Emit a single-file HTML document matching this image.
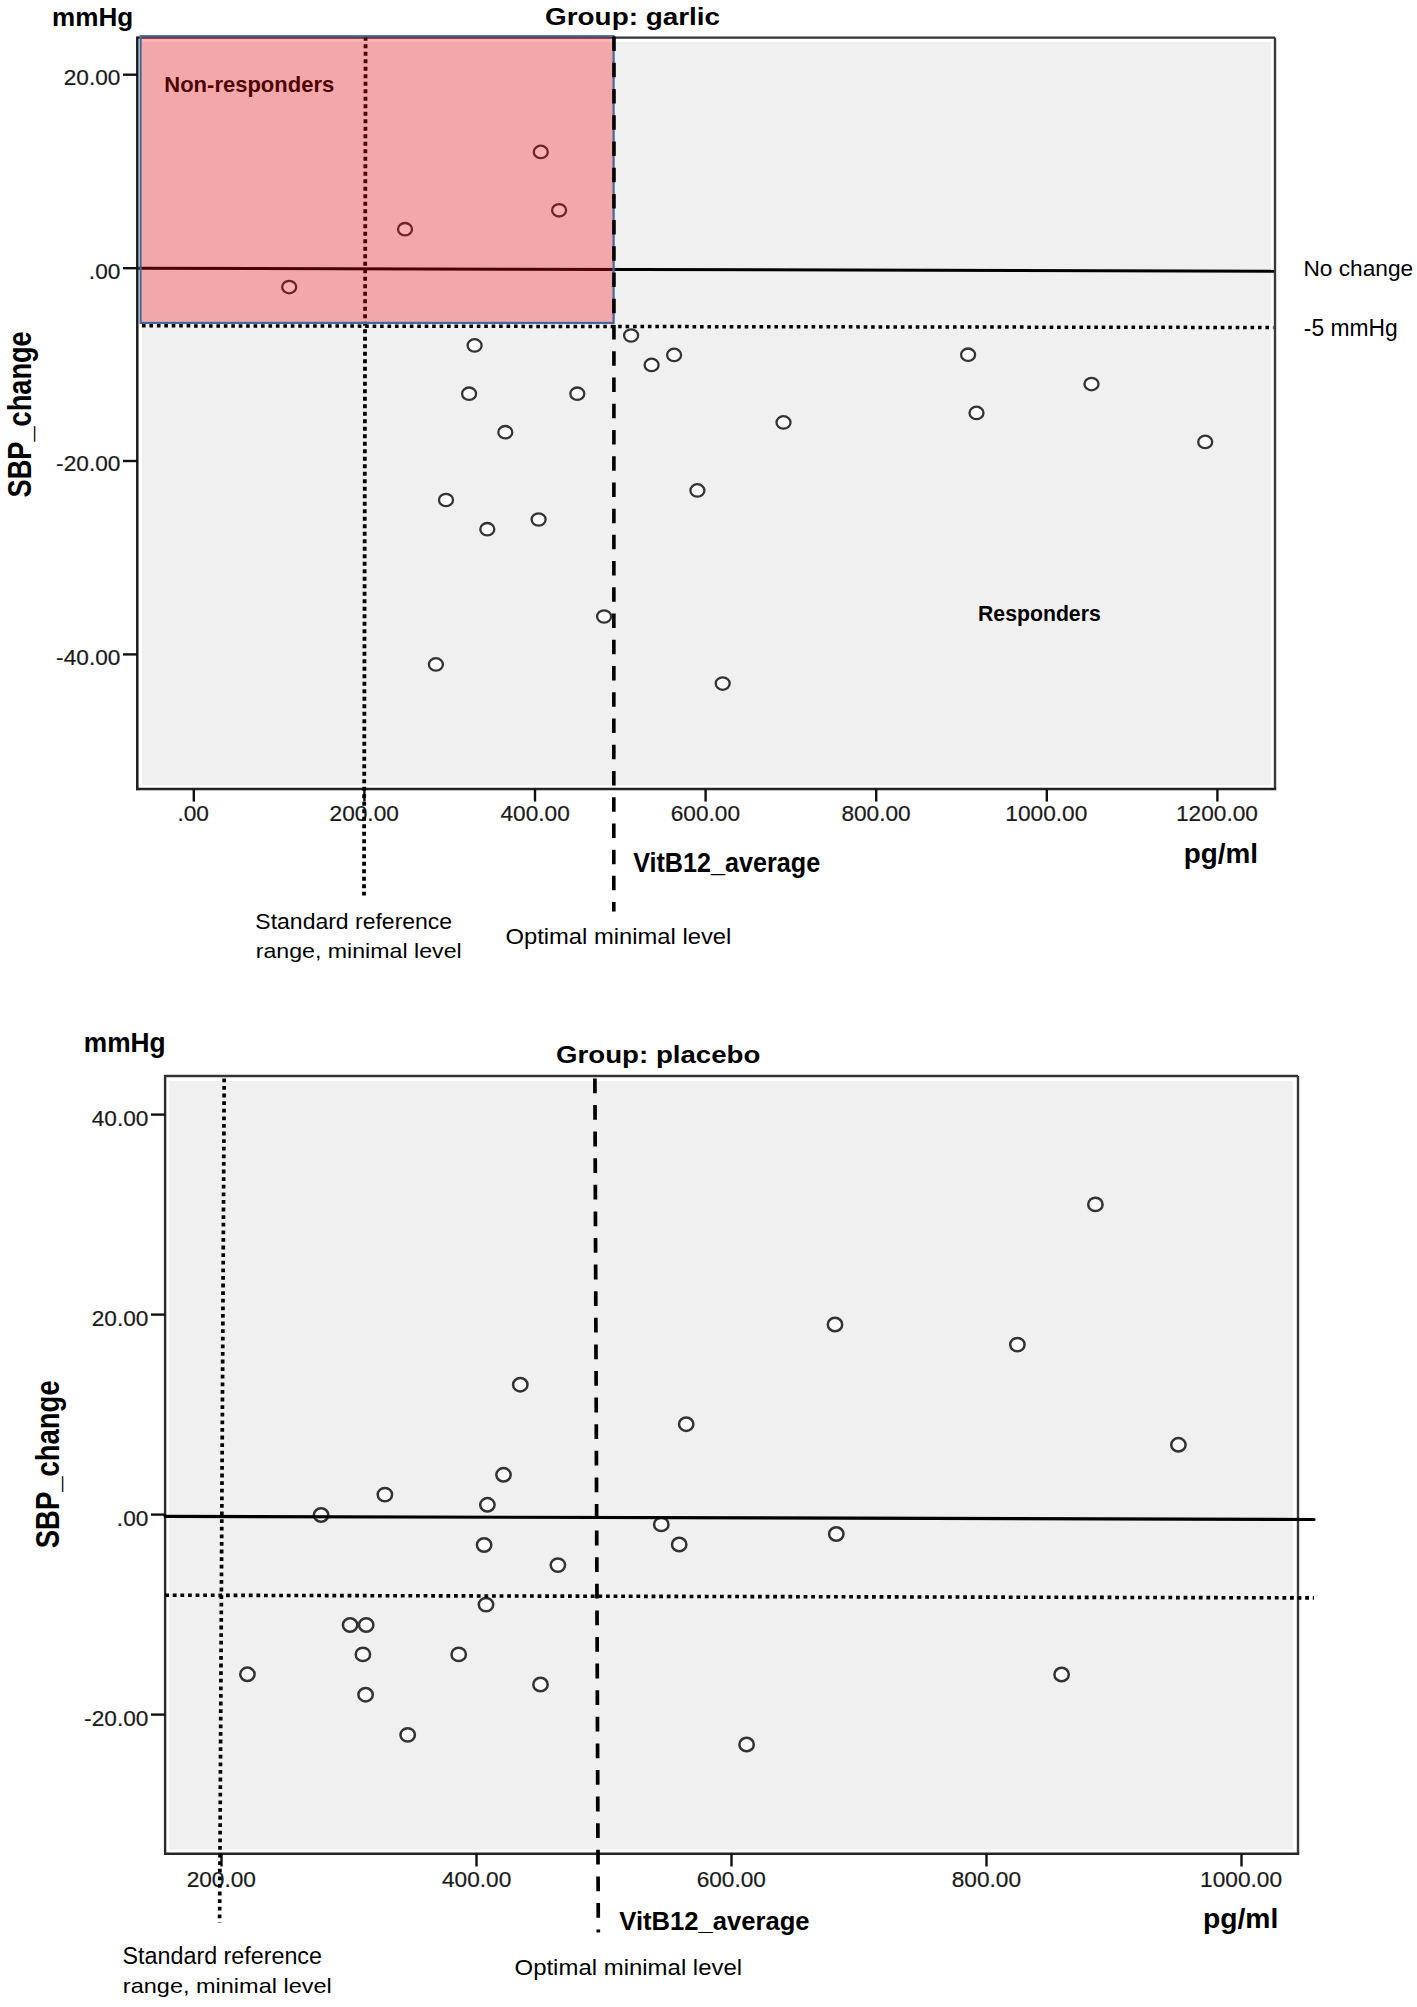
<!DOCTYPE html>
<html><head><meta charset="utf-8"><title>Group: garlic / placebo</title>
<style>
html,body{margin:0;padding:0;background:#fff;}
body{width:1417px;height:2007px;overflow:hidden;}
svg{display:block;}
text{font-family:"Liberation Sans", sans-serif;}
</style></head>
<body>
<svg width="1417" height="2007" viewBox="0 0 1417 2007">
<rect width="1417" height="2007" fill="#fff"/>
<rect x="141.9" y="41.9" width="1128.8000000000002" height="743.1" fill="#f0f0f0"/>
<line x1="137.3" y1="37.6" x2="1275" y2="37.6" stroke="#333" stroke-width="2.2" stroke-linecap="butt" />
<line x1="1275" y1="37.6" x2="1275" y2="789.1" stroke="#3a3a3a" stroke-width="2.4" stroke-linecap="butt" />
<line x1="137.3" y1="36.6" x2="137.3" y2="790.3000000000001" stroke="#1c1c1c" stroke-width="2.5" stroke-linecap="butt" />
<line x1="136.3" y1="789.1" x2="1276.2" y2="789.1" stroke="#222" stroke-width="2.5" stroke-linecap="butt" />
<line x1="123" y1="74.7" x2="137.3" y2="74.7" stroke="#111" stroke-width="2.4" stroke-linecap="butt" />
<line x1="123" y1="268.2" x2="137.3" y2="268.2" stroke="#111" stroke-width="2.4" stroke-linecap="butt" />
<line x1="123" y1="461.0" x2="137.3" y2="461.0" stroke="#111" stroke-width="2.4" stroke-linecap="butt" />
<line x1="123" y1="654.4" x2="137.3" y2="654.4" stroke="#111" stroke-width="2.4" stroke-linecap="butt" />
<line x1="193.8" y1="789.1" x2="193.8" y2="801.6" stroke="#111" stroke-width="2.4" stroke-linecap="butt" />
<line x1="364.4" y1="789.1" x2="364.4" y2="801.6" stroke="#111" stroke-width="2.4" stroke-linecap="butt" />
<line x1="535.0" y1="789.1" x2="535.0" y2="801.6" stroke="#111" stroke-width="2.4" stroke-linecap="butt" />
<line x1="705.5999999999999" y1="789.1" x2="705.5999999999999" y2="801.6" stroke="#111" stroke-width="2.4" stroke-linecap="butt" />
<line x1="876.2" y1="789.1" x2="876.2" y2="801.6" stroke="#111" stroke-width="2.4" stroke-linecap="butt" />
<line x1="1046.8" y1="789.1" x2="1046.8" y2="801.6" stroke="#111" stroke-width="2.4" stroke-linecap="butt" />
<line x1="1217.3999999999999" y1="789.1" x2="1217.3999999999999" y2="801.6" stroke="#111" stroke-width="2.4" stroke-linecap="butt" />
<text x="63.73" y="85.10" font-size="21.90" font-weight="normal" textLength="56.72" lengthAdjust="spacingAndGlyphs" fill="#1a1a1a" stroke="#1a1a1a" stroke-width="0.2">20.00</text>
<text x="88.89" y="278.60" font-size="21.90" font-weight="normal" textLength="31.51" lengthAdjust="spacingAndGlyphs" fill="#1a1a1a" stroke="#1a1a1a" stroke-width="0.2">.00</text>
<text x="56.13" y="471.40" font-size="21.90" font-weight="normal" textLength="64.27" lengthAdjust="spacingAndGlyphs" fill="#1a1a1a" stroke="#1a1a1a" stroke-width="0.2">-20.00</text>
<text x="56.13" y="664.80" font-size="21.90" font-weight="normal" textLength="64.27" lengthAdjust="spacingAndGlyphs" fill="#1a1a1a" stroke="#1a1a1a" stroke-width="0.2">-40.00</text>
<text x="177.42" y="821.20" font-size="21.90" font-weight="normal" textLength="31.51" lengthAdjust="spacingAndGlyphs" fill="#1a1a1a" stroke="#1a1a1a" stroke-width="0.2">.00</text>
<text x="329.55" y="821.20" font-size="21.90" font-weight="normal" textLength="69.33" lengthAdjust="spacingAndGlyphs" fill="#1a1a1a" stroke="#1a1a1a" stroke-width="0.2">200.00</text>
<text x="500.49" y="821.20" font-size="21.90" font-weight="normal" textLength="69.33" lengthAdjust="spacingAndGlyphs" fill="#1a1a1a" stroke="#1a1a1a" stroke-width="0.2">400.00</text>
<text x="670.75" y="821.20" font-size="21.90" font-weight="normal" textLength="69.33" lengthAdjust="spacingAndGlyphs" fill="#1a1a1a" stroke="#1a1a1a" stroke-width="0.2">600.00</text>
<text x="841.41" y="821.20" font-size="21.90" font-weight="normal" textLength="69.33" lengthAdjust="spacingAndGlyphs" fill="#1a1a1a" stroke="#1a1a1a" stroke-width="0.2">800.00</text>
<text x="1005.38" y="821.20" font-size="21.90" font-weight="normal" textLength="81.94" lengthAdjust="spacingAndGlyphs" fill="#1a1a1a" stroke="#1a1a1a" stroke-width="0.2">1000.00</text>
<text x="1175.98" y="821.20" font-size="21.90" font-weight="normal" textLength="81.94" lengthAdjust="spacingAndGlyphs" fill="#1a1a1a" stroke="#1a1a1a" stroke-width="0.2">1200.00</text>
<ellipse cx="540.8" cy="151.9" rx="7.0" ry="6.2" fill="#fcfcfc" stroke="#333" stroke-width="2.3"/>
<ellipse cx="559.1" cy="210.3" rx="7.0" ry="6.2" fill="#fcfcfc" stroke="#333" stroke-width="2.3"/>
<ellipse cx="405" cy="229.2" rx="7.0" ry="6.2" fill="#fcfcfc" stroke="#333" stroke-width="2.3"/>
<ellipse cx="289.2" cy="287.1" rx="7.0" ry="6.2" fill="#fcfcfc" stroke="#333" stroke-width="2.3"/>
<ellipse cx="474.6" cy="345.4" rx="7.0" ry="6.2" fill="#fcfcfc" stroke="#333" stroke-width="2.3"/>
<ellipse cx="469.1" cy="393.7" rx="7.0" ry="6.2" fill="#fcfcfc" stroke="#333" stroke-width="2.3"/>
<ellipse cx="577.3" cy="393.7" rx="7.0" ry="6.2" fill="#fcfcfc" stroke="#333" stroke-width="2.3"/>
<ellipse cx="505.3" cy="432.2" rx="7.0" ry="6.2" fill="#fcfcfc" stroke="#333" stroke-width="2.3"/>
<ellipse cx="446.0" cy="500" rx="7.0" ry="6.2" fill="#fcfcfc" stroke="#333" stroke-width="2.3"/>
<ellipse cx="487.3" cy="529.2" rx="7.0" ry="6.2" fill="#fcfcfc" stroke="#333" stroke-width="2.3"/>
<ellipse cx="538.6" cy="519.5" rx="7.0" ry="6.2" fill="#fcfcfc" stroke="#333" stroke-width="2.3"/>
<ellipse cx="631.1" cy="335.5" rx="7.0" ry="6.2" fill="#fcfcfc" stroke="#333" stroke-width="2.3"/>
<ellipse cx="651.6" cy="364.9" rx="7.0" ry="6.2" fill="#fcfcfc" stroke="#333" stroke-width="2.3"/>
<ellipse cx="674.1" cy="354.9" rx="7.0" ry="6.2" fill="#fcfcfc" stroke="#333" stroke-width="2.3"/>
<ellipse cx="697.4" cy="490.4" rx="7.0" ry="6.2" fill="#fcfcfc" stroke="#333" stroke-width="2.3"/>
<ellipse cx="435.9" cy="664.4" rx="7.0" ry="6.2" fill="#fcfcfc" stroke="#333" stroke-width="2.3"/>
<ellipse cx="604.1" cy="616.5" rx="7.0" ry="6.2" fill="#fcfcfc" stroke="#333" stroke-width="2.3"/>
<ellipse cx="722.7" cy="683.6" rx="7.0" ry="6.2" fill="#fcfcfc" stroke="#333" stroke-width="2.3"/>
<ellipse cx="783.5" cy="422.4" rx="7.0" ry="6.2" fill="#fcfcfc" stroke="#333" stroke-width="2.3"/>
<ellipse cx="968.1" cy="354.7" rx="7.0" ry="6.2" fill="#fcfcfc" stroke="#333" stroke-width="2.3"/>
<ellipse cx="976.5" cy="412.9" rx="7.0" ry="6.2" fill="#fcfcfc" stroke="#333" stroke-width="2.3"/>
<ellipse cx="1091.5" cy="384.1" rx="7.0" ry="6.2" fill="#fcfcfc" stroke="#333" stroke-width="2.3"/>
<ellipse cx="1205.2" cy="441.9" rx="7.0" ry="6.2" fill="#fcfcfc" stroke="#333" stroke-width="2.3"/>
<line x1="138.3" y1="268.2" x2="1274" y2="271.2" stroke="#000" stroke-width="3.0" stroke-linecap="butt" />
<line x1="365.6" y1="36.85" x2="364.0" y2="895.5" stroke="#000" stroke-width="3.8" stroke-linecap="butt" stroke-dasharray="3.85 3.65" />
<text x="164.27" y="91.80" font-size="22.32" font-weight="bold" textLength="169.98" lengthAdjust="spacingAndGlyphs" fill="#000" >Non-responders</text>
<text x="978.02" y="620.50" font-size="22.61" font-weight="bold" textLength="122.72" lengthAdjust="spacingAndGlyphs" fill="#000" >Responders</text>
<rect x="140.6" y="36.2" width="473" height="286.7" fill="rgb(250,3,10)" fill-opacity="0.3" stroke="#44689a" stroke-width="2.2"/>
<line x1="614.0" y1="36.5" x2="613.8" y2="911.4" stroke="#000" stroke-width="3.6" stroke-linecap="butt" stroke-dasharray="14.5 11.73" />
<line x1="142.0" y1="325.8" x2="1273.5" y2="327.5" stroke="#000" stroke-width="3.5" stroke-linecap="butt" stroke-dasharray="3.6 3.84" />
<text x="52.11" y="25.80" font-size="26.67" font-weight="bold" textLength="81.12" lengthAdjust="spacingAndGlyphs" fill="#000" >mmHg</text>
<text x="545.09" y="25.10" font-size="23.70" font-weight="bold" textLength="174.94" lengthAdjust="spacingAndGlyphs" fill="#000" >Group: garlic</text>
<text x="1303.49" y="275.70" font-size="22.32" font-weight="normal" textLength="109.68" lengthAdjust="spacingAndGlyphs" fill="#000" >No change</text>
<text x="1303.87" y="336.10" font-size="23.04" font-weight="normal" textLength="93.84" lengthAdjust="spacingAndGlyphs" fill="#000" >-5 mmHg</text>
<text x="633.17" y="871.90" font-size="26.96" font-weight="bold" textLength="187.04" lengthAdjust="spacingAndGlyphs" fill="#000" >VitB12_average</text>
<text x="1183.79" y="862.50" font-size="26.76" font-weight="bold" textLength="74.26" lengthAdjust="spacingAndGlyphs" fill="#000" >pg/ml</text>
<text x="255.37" y="929.20" font-size="22.32" font-weight="normal" textLength="196.80" lengthAdjust="spacingAndGlyphs" fill="#000" >Standard reference</text>
<text x="255.69" y="958.40" font-size="20.97" font-weight="normal" textLength="205.98" lengthAdjust="spacingAndGlyphs" fill="#000" >range, minimal level</text>
<text x="505.43" y="944.10" font-size="21.74" font-weight="normal" textLength="225.88" lengthAdjust="spacingAndGlyphs" fill="#000" >Optimal minimal level</text>
<text transform="translate(31.20,497.42) rotate(-90)" x="0" y="0" font-size="32.90" font-weight="bold" textLength="166.16" lengthAdjust="spacingAndGlyphs" fill="#000">SBP_change</text>
<rect x="169.29999999999998" y="1081.0" width="1123.7" height="768.6" fill="#f0f0f0"/>
<line x1="165.1" y1="1076.0" x2="1298.0" y2="1076.0" stroke="#333" stroke-width="2.4" stroke-linecap="butt" />
<line x1="1298.0" y1="1076.0" x2="1298.0" y2="1853.7" stroke="#3a3a3a" stroke-width="2.4" stroke-linecap="butt" />
<line x1="165.1" y1="1075.0" x2="165.1" y2="1854.9" stroke="#2a2a2a" stroke-width="2.4" stroke-linecap="butt" />
<line x1="164.1" y1="1853.7" x2="1299.2" y2="1853.7" stroke="#262626" stroke-width="2.5" stroke-linecap="butt" />
<line x1="151" y1="1114.6" x2="165.1" y2="1114.6" stroke="#111" stroke-width="2.4" stroke-linecap="butt" />
<text x="91.73" y="1125.60" font-size="21.90" font-weight="normal" textLength="56.72" lengthAdjust="spacingAndGlyphs" fill="#1a1a1a" stroke="#1a1a1a" stroke-width="0.2">40.00</text>
<line x1="151" y1="1314.6" x2="165.1" y2="1314.6" stroke="#111" stroke-width="2.4" stroke-linecap="butt" />
<text x="91.73" y="1325.60" font-size="21.90" font-weight="normal" textLength="56.72" lengthAdjust="spacingAndGlyphs" fill="#1a1a1a" stroke="#1a1a1a" stroke-width="0.2">20.00</text>
<line x1="151" y1="1514.6" x2="165.1" y2="1514.6" stroke="#111" stroke-width="2.4" stroke-linecap="butt" />
<text x="116.89" y="1525.60" font-size="21.90" font-weight="normal" textLength="31.51" lengthAdjust="spacingAndGlyphs" fill="#1a1a1a" stroke="#1a1a1a" stroke-width="0.2">.00</text>
<line x1="151" y1="1714.6" x2="165.1" y2="1714.6" stroke="#111" stroke-width="2.4" stroke-linecap="butt" />
<text x="84.13" y="1725.60" font-size="21.90" font-weight="normal" textLength="64.27" lengthAdjust="spacingAndGlyphs" fill="#1a1a1a" stroke="#1a1a1a" stroke-width="0.2">-20.00</text>
<line x1="221.5" y1="1853.7" x2="221.5" y2="1866.5" stroke="#111" stroke-width="2.4" stroke-linecap="butt" />
<text x="186.65" y="1887.00" font-size="21.90" font-weight="normal" textLength="69.33" lengthAdjust="spacingAndGlyphs" fill="#1a1a1a" stroke="#1a1a1a" stroke-width="0.2">200.00</text>
<line x1="476.5" y1="1853.7" x2="476.5" y2="1866.5" stroke="#111" stroke-width="2.4" stroke-linecap="butt" />
<text x="441.99" y="1887.00" font-size="21.90" font-weight="normal" textLength="69.33" lengthAdjust="spacingAndGlyphs" fill="#1a1a1a" stroke="#1a1a1a" stroke-width="0.2">400.00</text>
<line x1="731.5" y1="1853.7" x2="731.5" y2="1866.5" stroke="#111" stroke-width="2.4" stroke-linecap="butt" />
<text x="696.65" y="1887.00" font-size="21.90" font-weight="normal" textLength="69.33" lengthAdjust="spacingAndGlyphs" fill="#1a1a1a" stroke="#1a1a1a" stroke-width="0.2">600.00</text>
<line x1="986.5" y1="1853.7" x2="986.5" y2="1866.5" stroke="#111" stroke-width="2.4" stroke-linecap="butt" />
<text x="951.71" y="1887.00" font-size="21.90" font-weight="normal" textLength="69.33" lengthAdjust="spacingAndGlyphs" fill="#1a1a1a" stroke="#1a1a1a" stroke-width="0.2">800.00</text>
<line x1="1241.5" y1="1853.7" x2="1241.5" y2="1866.5" stroke="#111" stroke-width="2.4" stroke-linecap="butt" />
<text x="1200.08" y="1887.00" font-size="21.90" font-weight="normal" textLength="81.94" lengthAdjust="spacingAndGlyphs" fill="#1a1a1a" stroke="#1a1a1a" stroke-width="0.2">1000.00</text>
<ellipse cx="520.3" cy="1384.7" rx="7.2" ry="6.7" fill="#fcfcfc" stroke="#333" stroke-width="2.5"/>
<ellipse cx="503.5" cy="1474.8" rx="7.2" ry="6.7" fill="#fcfcfc" stroke="#333" stroke-width="2.5"/>
<ellipse cx="384.9" cy="1494.6" rx="7.2" ry="6.7" fill="#fcfcfc" stroke="#333" stroke-width="2.5"/>
<ellipse cx="487.4" cy="1504.8" rx="7.2" ry="6.7" fill="#fcfcfc" stroke="#333" stroke-width="2.5"/>
<ellipse cx="321.1" cy="1515" rx="7.2" ry="6.7" fill="#fcfcfc" stroke="#333" stroke-width="2.5"/>
<ellipse cx="484.1" cy="1545" rx="7.2" ry="6.7" fill="#fcfcfc" stroke="#333" stroke-width="2.5"/>
<ellipse cx="557.9" cy="1565.1" rx="7.2" ry="6.7" fill="#fcfcfc" stroke="#333" stroke-width="2.5"/>
<ellipse cx="486" cy="1604.6" rx="7.2" ry="6.7" fill="#fcfcfc" stroke="#333" stroke-width="2.5"/>
<ellipse cx="350.1" cy="1625" rx="7.2" ry="6.7" fill="#fcfcfc" stroke="#333" stroke-width="2.5"/>
<ellipse cx="366.2" cy="1625" rx="7.2" ry="6.7" fill="#fcfcfc" stroke="#333" stroke-width="2.5"/>
<ellipse cx="362.9" cy="1654.4" rx="7.2" ry="6.7" fill="#fcfcfc" stroke="#333" stroke-width="2.5"/>
<ellipse cx="458.7" cy="1654.4" rx="7.2" ry="6.7" fill="#fcfcfc" stroke="#333" stroke-width="2.5"/>
<ellipse cx="247.4" cy="1674.3" rx="7.2" ry="6.7" fill="#fcfcfc" stroke="#333" stroke-width="2.5"/>
<ellipse cx="365.6" cy="1694.7" rx="7.2" ry="6.7" fill="#fcfcfc" stroke="#333" stroke-width="2.5"/>
<ellipse cx="540.5" cy="1684.5" rx="7.2" ry="6.7" fill="#fcfcfc" stroke="#333" stroke-width="2.5"/>
<ellipse cx="407.7" cy="1734.9" rx="7.2" ry="6.7" fill="#fcfcfc" stroke="#333" stroke-width="2.5"/>
<ellipse cx="1095.4" cy="1204.4" rx="7.2" ry="6.7" fill="#fcfcfc" stroke="#333" stroke-width="2.5"/>
<ellipse cx="835" cy="1324.5" rx="7.2" ry="6.7" fill="#fcfcfc" stroke="#333" stroke-width="2.5"/>
<ellipse cx="1017.4" cy="1344.6" rx="7.2" ry="6.7" fill="#fcfcfc" stroke="#333" stroke-width="2.5"/>
<ellipse cx="686.2" cy="1424.2" rx="7.2" ry="6.7" fill="#fcfcfc" stroke="#333" stroke-width="2.5"/>
<ellipse cx="1178.4" cy="1444.8" rx="7.2" ry="6.7" fill="#fcfcfc" stroke="#333" stroke-width="2.5"/>
<ellipse cx="661.3" cy="1524.4" rx="7.2" ry="6.7" fill="#fcfcfc" stroke="#333" stroke-width="2.5"/>
<ellipse cx="679.2" cy="1544.5" rx="7.2" ry="6.7" fill="#fcfcfc" stroke="#333" stroke-width="2.5"/>
<ellipse cx="836.3" cy="1534" rx="7.2" ry="6.7" fill="#fcfcfc" stroke="#333" stroke-width="2.5"/>
<ellipse cx="1061.6" cy="1674.5" rx="7.2" ry="6.7" fill="#fcfcfc" stroke="#333" stroke-width="2.5"/>
<ellipse cx="746.6" cy="1744.5" rx="7.2" ry="6.7" fill="#fcfcfc" stroke="#333" stroke-width="2.5"/>
<line x1="165.1" y1="1516.3" x2="1314" y2="1519.5" stroke="#000" stroke-width="3.2" stroke-linecap="round" />
<line x1="165.2" y1="1595.2" x2="1314" y2="1597.9" stroke="#000" stroke-width="3.6" stroke-linecap="butt" stroke-dasharray="3.8 3.8" />
<line x1="224.2" y1="1078.4" x2="219.6" y2="1922.4" stroke="#000" stroke-width="3.7" stroke-linecap="butt" stroke-dasharray="3.8 3.8" />
<line x1="594.9" y1="1078.4" x2="598.3" y2="1932.6" stroke="#000" stroke-width="3.7" stroke-linecap="butt" stroke-dasharray="14.8 11.8" />
<text x="83.79" y="1051.80" font-size="26.96" font-weight="bold" textLength="81.86" lengthAdjust="spacingAndGlyphs" fill="#000" >mmHg</text>
<text x="556.09" y="1062.60" font-size="24.64" font-weight="bold" textLength="204.29" lengthAdjust="spacingAndGlyphs" fill="#000" >Group: placebo</text>
<text transform="translate(59.40,1548.22) rotate(-90)" x="0" y="0" font-size="34.06" font-weight="bold" textLength="167.88" lengthAdjust="spacingAndGlyphs" fill="#000">SBP_change</text>
<text x="619.37" y="1930.40" font-size="26.67" font-weight="bold" textLength="190.16" lengthAdjust="spacingAndGlyphs" fill="#000" >VitB12_average</text>
<text x="1202.96" y="1927.80" font-size="26.76" font-weight="bold" textLength="75.31" lengthAdjust="spacingAndGlyphs" fill="#000" >pg/ml</text>
<text x="122.55" y="1963.80" font-size="23.33" font-weight="normal" textLength="199.43" lengthAdjust="spacingAndGlyphs" fill="#000" >Standard reference</text>
<text x="122.87" y="1993.40" font-size="20.97" font-weight="normal" textLength="208.92" lengthAdjust="spacingAndGlyphs" fill="#000" >range, minimal level</text>
<text x="514.52" y="1974.70" font-size="21.74" font-weight="normal" textLength="227.60" lengthAdjust="spacingAndGlyphs" fill="#000" >Optimal minimal level</text>
</svg>
</body></html>
